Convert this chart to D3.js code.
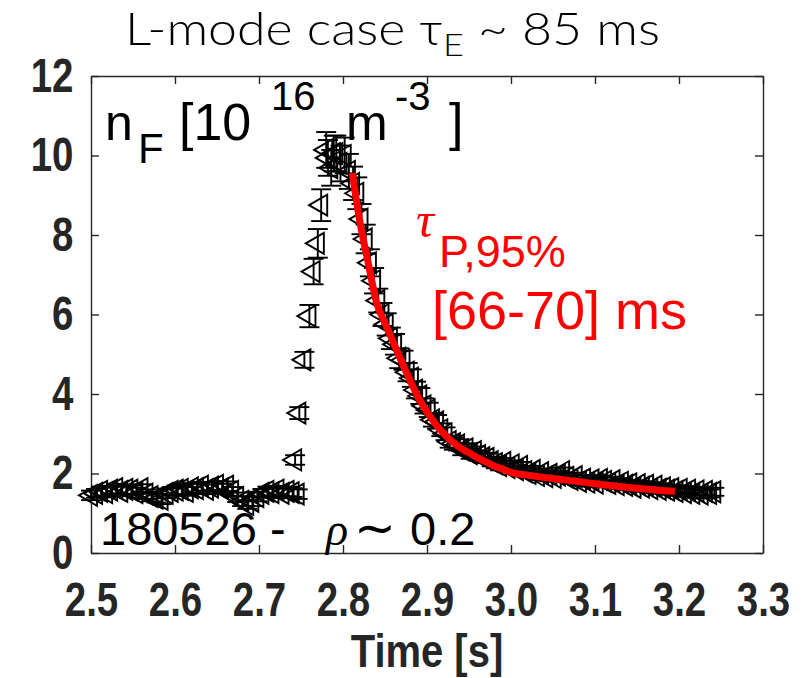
<!DOCTYPE html>
<html>
<head>
<meta charset="utf-8">
<script src="https://cdn.jsdelivr.net/npm/d3@7/dist/d3.min.js"></script>
<style>
body { margin: 0; background: #fff; }
</style>
</head>
<body>
<script>
// baseline before the pellet
var baseTimes = [2.500, 2.506, 2.512, 2.518, 2.524, 2.530, 2.536, 2.542, 2.548, 2.554, 2.560, 2.566, 2.572, 2.578,
    2.584, 2.590, 2.596, 2.602, 2.608, 2.614, 2.620, 2.626, 2.632, 2.638, 2.644, 2.650, 2.656, 2.662, 2.668, 2.674,
    2.680, 2.686, 2.692, 2.698, 2.704, 2.710, 2.716, 2.722, 2.728, 2.734, 2.740, 2.746];
var baseValues = [1.45, 1.50, 1.55, 1.52, 1.58, 1.62, 1.55, 1.60, 1.58, 1.52, 1.62, 1.48, 1.42, 1.38,
    1.35, 1.50, 1.55, 1.58, 1.60, 1.55, 1.64, 1.62, 1.68, 1.60, 1.66, 1.70, 1.62, 1.68, 1.55, 1.40,
    1.30, 1.22, 1.30, 1.42, 1.50, 1.55, 1.52, 1.58, 1.50, 1.55, 1.52, 1.48];
var baseErr = [0.12, 0.11, 0.12, 0.12, 0.11, 0.12, 0.12, 0.11, 0.12, 0.12, 0.11, 0.12, 0.12, 0.11,
    0.12, 0.12, 0.11, 0.12, 0.12, 0.11, 0.12, 0.12, 0.11, 0.12, 0.12, 0.11, 0.12, 0.12, 0.11, 0.12,
    0.12, 0.11, 0.12, 0.12, 0.11, 0.12, 0.12, 0.11, 0.12, 0.12, 0.11, 0.12];

// rise
var riseTimes = [2.743, 2.748, 2.754, 2.760, 2.765, 2.770, 2.774, 2.780, 2.782, 2.786, 2.789];
var riseValues = [2.34, 3.52, 4.86, 5.96, 7.08, 7.79, 8.75, 10.14, 9.94, 9.69, 10.05];
var riseErr = [0.12, 0.15, 0.20, 0.28, 0.32, 0.36, 0.40, 0.45, 0.45, 0.45, 0.45];

// decay
var decayTimes = [2.792, 2.797, 2.802, 2.807, 2.812, 2.817, 2.822, 2.827, 2.832, 2.837,
    2.842, 2.847, 2.852, 2.857, 2.862, 2.867, 2.872, 2.877, 2.882, 2.887,
    2.892, 2.897, 2.902, 2.907, 2.912, 2.917, 2.922, 2.927, 2.932, 2.937,
    2.942, 2.947, 2.952, 2.957, 2.962, 2.967, 2.972, 2.977, 2.982, 2.987,
    2.992, 2.997, 3.002, 3.007, 3.012, 3.017, 3.022, 3.027, 3.032, 3.037,
    3.042, 3.047, 3.052, 3.057, 3.062, 3.067, 3.072, 3.077, 3.082, 3.087,
    3.092, 3.097, 3.102, 3.107, 3.112, 3.117, 3.122, 3.127, 3.132, 3.137,
    3.142, 3.147, 3.152, 3.157, 3.162, 3.167, 3.172, 3.177, 3.182, 3.187,
    3.192, 3.197, 3.202, 3.207, 3.212, 3.217, 3.222, 3.227, 3.232, 3.237, 3.242];
var decayValues = [10.05, 9.80, 10.00, 9.60, 9.30, 9.05, 8.40, 7.90, 7.30, 6.85,
    6.35, 6.00, 5.75, 5.40, 5.25, 4.90, 4.85, 4.55, 4.40, 4.10,
    3.95, 3.70, 3.60, 3.35, 3.30, 3.10, 3.00, 2.80, 2.75, 2.72,
    2.60, 2.62, 2.50, 2.55, 2.45, 2.40, 2.38, 2.30, 2.25, 2.20,
    2.28, 2.15, 2.22, 2.10, 2.18, 2.05, 2.00, 2.08, 1.95, 2.02,
    1.92, 1.98, 1.90, 1.96, 2.05, 1.90, 1.85, 1.92, 1.80, 1.86,
    1.78, 1.84, 1.76, 1.85, 1.80, 1.75, 1.82, 1.72, 1.78, 1.70,
    1.74, 1.65, 1.72, 1.66, 1.70, 1.62, 1.68, 1.60, 1.64, 1.58,
    1.62, 1.55, 1.60, 1.52, 1.58, 1.50, 1.56, 1.48, 1.55, 1.50, 1.54];
var decayErr = [0.45, 0.45, 0.45, 0.44, 0.42, 0.40, 0.38, 0.36, 0.34, 0.32,
    0.30, 0.29, 0.28, 0.27, 0.26, 0.25, 0.24, 0.23, 0.22, 0.21,
    0.20, 0.19, 0.18, 0.17, 0.17, 0.16, 0.16, 0.15, 0.15, 0.14,
    0.14, 0.14, 0.13, 0.13, 0.13, 0.12, 0.12, 0.12, 0.12, 0.12,
    0.11, 0.11, 0.11, 0.11, 0.11, 0.11, 0.11, 0.11, 0.11, 0.11,
    0.10, 0.10, 0.10, 0.10, 0.10, 0.10, 0.10, 0.10, 0.10, 0.10,
    0.10, 0.10, 0.10, 0.10, 0.10, 0.10, 0.10, 0.10, 0.10, 0.10,
    0.10, 0.10, 0.10, 0.10, 0.10, 0.10, 0.10, 0.10, 0.10, 0.10,
    0.10, 0.10, 0.10, 0.10, 0.10, 0.10, 0.10, 0.10, 0.10, 0.10, 0.10];

// red fit curve
var fitTimes = [2.811, 2.82, 2.83, 2.84, 2.85, 2.86, 2.87, 2.88, 2.89, 2.90, 2.91, 2.92, 2.93, 2.94, 2.95,
    2.96, 2.97, 2.98, 2.99, 3.00, 3.02, 3.04, 3.06, 3.08, 3.10, 3.12, 3.14, 3.16, 3.18, 3.195];
var fitValues = [9.56, 8.35, 7.30, 6.30, 5.78, 5.30, 4.80, 4.33, 3.90, 3.55, 3.25, 3.00, 2.80, 2.64, 2.52,
    2.40, 2.29, 2.19, 2.11, 2.03, 1.96, 1.90, 1.85, 1.80, 1.74, 1.69, 1.65, 1.61, 1.57, 1.55];

var xTicks = [2.5, 2.6, 2.7, 2.8, 2.9, 3.0, 3.1, 3.2, 3.3];
var yTicks = [0, 2, 4, 6, 8, 10, 12];

var width = 803, height = 678;
var axColor = "#262626";

var svg = d3.select("body").append("svg")
    .attr("width", width).attr("height", height)
    .style("font-family", "'Liberation Sans', Arial, sans-serif");

var x = d3.scaleLinear().domain([2.5, 3.3]).range([91, 763]);
var y = d3.scaleLinear().domain([0, 12]).range([553, 76]);

// merge the three pieces into point records
function pts(ts, vs, es) {
    return ts.map(function (t, i) { return {t: t, v: vs[i], e: es[i]}; });
}
var points = pts(baseTimes, baseValues, baseErr)
    .concat(pts(riseTimes, riseValues, riseErr))
    .concat(pts(decayTimes, decayValues, decayErr));

// axes, ticks pointing in, box on
function styleAxis(g) {
    g.selectAll("path.domain").attr("stroke", axColor).attr("stroke-width", 1.4);
    g.selectAll(".tick line").attr("stroke", axColor).attr("stroke-width", 1.4);
}
function styleLabels(g) {
    g.selectAll("text").attr("fill", axColor).attr("font-size", 48).attr("font-weight", "bold")
        .attr("font-family", "'Liberation Sans', Arial, sans-serif")
        .attr("transform", "scale(0.8,1)");
}
svg.append("g").attr("transform", "translate(0,553)")
    .call(d3.axisBottom(x).tickValues(xTicks).tickFormat(d3.format(".1f")).tickSize(-8).tickPadding(29).tickSizeOuter(0))
    .call(styleAxis)
    .call(styleLabels);
svg.append("g").attr("transform", "translate(0,76)")
    .call(d3.axisTop(x).tickValues(xTicks).tickFormat("").tickSize(-8).tickSizeOuter(0))
    .call(styleAxis);
svg.append("g").attr("transform", "translate(91,0)")
    .call(d3.axisLeft(y).tickValues(yTicks).tickSize(-8).tickPadding(22).tickSizeOuter(0))
    .call(styleAxis)
    .call(styleLabels);
svg.append("g").attr("transform", "translate(763,0)")
    .call(d3.axisRight(y).tickValues(yTicks).tickFormat("").tickSize(-8).tickSizeOuter(0))
    .call(styleAxis);

// error bars
var eb = svg.append("g").attr("stroke", "#000").attr("stroke-width", 1.9).attr("fill", "none");
eb.selectAll("line.v").data(points).enter().append("line")
    .attr("x1", function (d) { return x(d.t); })
    .attr("x2", function (d) { return x(d.t); })
    .attr("y1", function (d) { return y(d.v - d.e); })
    .attr("y2", function (d) { return y(d.v + d.e); });
eb.selectAll("line.top").data(points).enter().append("line")
    .attr("x1", function (d) { return x(d.t) - 10; })
    .attr("x2", function (d) { return x(d.t) + 10; })
    .attr("y1", function (d) { return y(d.v + d.e); })
    .attr("y2", function (d) { return y(d.v + d.e); });
eb.selectAll("line.bot").data(points).enter().append("line")
    .attr("x1", function (d) { return x(d.t) - 10; })
    .attr("x2", function (d) { return x(d.t) + 10; })
    .attr("y1", function (d) { return y(d.v - d.e); })
    .attr("y2", function (d) { return y(d.v - d.e); });

// left pointing triangles
var tri = d3.symbol().type(d3.symbolTriangle).size(190);
svg.append("g").selectAll("path").data(points).enter().append("path")
    .attr("d", tri)
    .attr("fill", "none").attr("stroke", "#000").attr("stroke-width", 1.9)
    .attr("transform", function (d) { return "translate(" + x(d.t) + "," + y(d.v) + ") rotate(-90)"; });

// fit
var fitLine = d3.line()
    .x(function (d, i) { return x(fitTimes[i]); })
    .y(function (d) { return y(d); })
    .curve(d3.curveMonotoneX);
svg.append("path").datum(fitValues)
    .attr("d", fitLine)
    .attr("fill", "none").attr("stroke", "#ff0000").attr("stroke-width", 7);

// title
var title = svg.append("text").attr("x", 125).attr("y", 45)
    .attr("font-family", "Lato, 'Noto Sans', sans-serif").attr("font-weight", 300)
    .attr("font-size", 46).attr("fill", "#000")
    .attr("textLength", 535).attr("lengthAdjust", "spacingAndGlyphs");
title.append("tspan").text("L-mode case \u03c4");
title.append("tspan").attr("font-size", 32).attr("dy", 11).attr("fill", "#000").text("E");
title.append("tspan").attr("dy", -11).text(" ~ 85 ms");

// n_F label
var lab = svg.append("g").attr("fill", "#000");
lab.append("text").attr("x", 105).attr("y", 140).attr("font-size", 50).text("n");
lab.append("text").attr("x", 138).attr("y", 163).attr("font-size", 42).text("F");
lab.append("text").attr("x", 179).attr("y", 140).attr("font-size", 52).text("[10");
lab.append("text").attr("x", 271).attr("y", 110).attr("font-size", 40).text("16");
lab.append("text").attr("x", 346).attr("y", 140).attr("font-size", 50).text("m");
lab.append("text").attr("x", 395).attr("y", 110).attr("font-size", 40).text("-3");
lab.append("text").attr("x", 449).attr("y", 140).attr("font-size", 52).text("]");

// shot and radius
lab.append("text").attr("x", 100).attr("y", 545).attr("font-size", 47).text("180526 -");
lab.append("text").attr("x", 326).attr("y", 545).attr("font-size", 46)
    .attr("font-family", "'Liberation Serif', serif").attr("font-style", "italic").text("\u03c1");
lab.append("text").attr("x", 354).attr("y", 545).attr("font-size", 50).text("\u223c");
lab.append("text").attr("x", 410).attr("y", 545).attr("font-size", 47).text("0.2");

// red annotation
var red = svg.append("g").attr("fill", "#ff0000");
red.append("text").attr("x", 416).attr("y", 237).attr("font-size", 50)
    .attr("font-family", "'Liberation Serif', serif").attr("font-style", "italic").text("\u03c4");
red.append("text").attr("x", 439).attr("y", 267).attr("font-size", 45).text("P,95%");
red.append("text").attr("x", 432).attr("y", 329).attr("font-size", 54).text("[66-70] ms");

// x label
svg.append("text").attr("x", 427).attr("y", 667)
    .attr("text-anchor", "middle").attr("font-size", 47).attr("font-weight", "bold")
    .attr("fill", axColor).attr("transform", "translate(" + (427 * 0.15) + ",0) scale(0.85,1)")
    .text("Time [s]");
</script>
</body>
</html>
